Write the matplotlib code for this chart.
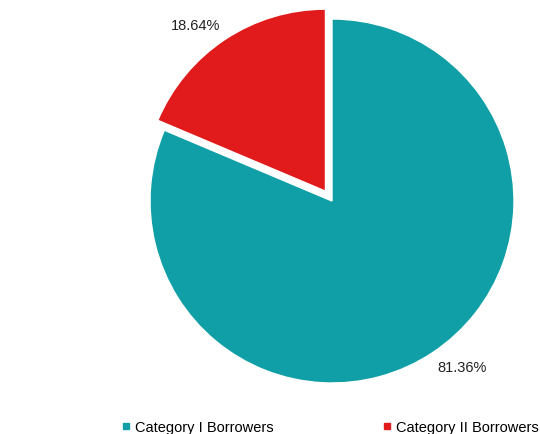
import numpy as np
import matplotlib.pyplot as plt
from matplotlib.lines import Line2D

categories = ["Category I Borrowers", "Category II Borrowers"]
shares = [81.36, 18.64]
colors = ["#109FA6", "#E11B1B"]
explode = [0, 0.065]

plt.rcParams['font.family'] = ['Liberation Sans', 'DejaVu Sans']

fig = plt.figure(figsize=(5.4, 4.35), dpi=100)
# pie centre at (332, 202) px from top-left, radius 182 px
ax = fig.add_axes([(332 - 182) / 540, (435 - 202 - 182) / 435, 364 / 540, 364 / 435])

wedges, texts, autotexts = ax.pie(
    shares, colors=colors, explode=explode, startangle=90, counterclock=False,
    autopct=lambda p: f"{p:.2f}%",
    wedgeprops=dict(edgecolor="white", linewidth=1),
    textprops=dict(fontsize=10.5, color="#222222"),
)

# put the percentage labels just outside the outer edge, like "outside end"
for w, t in zip(wedges, autotexts):
    mid = np.deg2rad((w.theta1 + w.theta2) / 2)
    cx, cy = w.center
    x = cx + 1.05 * np.cos(mid)
    y = cy + 1.05 * np.sin(mid)
    t.set_position((x, y))
    t.set_ha("left" if x > 0 else "right")
    t.set_va("bottom" if y > 0 else "top")

ax.set_xlim(-1, 1)
ax.set_ylim(-1, 1)
ax.set_aspect("equal")

handles = [Line2D([], [], marker="s", linestyle="none", markersize=5,
                  markerfacecolor=c, markeredgecolor=c) for c in colors]
fig.legend(handles, categories, loc="center", ncol=2, frameon=False,
           bbox_to_anchor=(330 / 540, 1 - 428 / 435), fontsize=10.5,
           handlelength=0.6, handletextpad=0.3, columnspacing=7.5, borderpad=0)

fig.savefig("out.png", dpi=100)
